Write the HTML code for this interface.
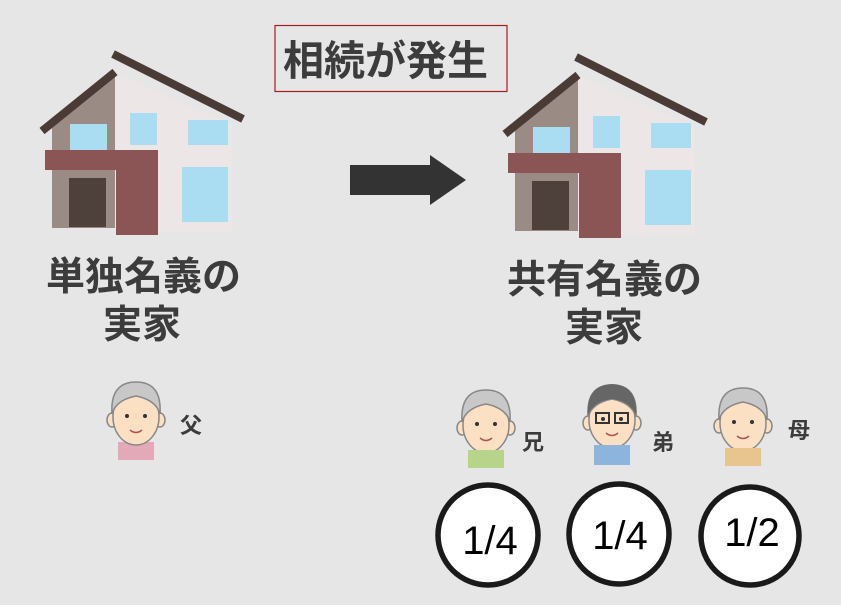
<!DOCTYPE html>
<html><head><meta charset="utf-8"><style>
html,body{margin:0;padding:0}
body{width:841px;height:605px;background:#e6e6e6;overflow:hidden;position:relative;font-family:"Liberation Sans","Noto Sans CJK JP",sans-serif}
.t{position:absolute;font-weight:bold;color:#3c3c3c;white-space:nowrap;font-family:"Noto Sans CJK JP",sans-serif}
</style></head><body>
<svg width="841" height="605" style="position:absolute;left:0;top:0">
<defs>
<g id="house">
<polygon points="115,72 232,125 232,232 115,232" fill="#ece6e6"/>
<polygon points="52,128 115,72 115,228 52,228" fill="#9a8b85"/>
<line x1="113" y1="54" x2="243" y2="119" stroke="#4a3b36" stroke-width="8"/>
<line x1="42" y1="131" x2="115" y2="72" stroke="#4a3b36" stroke-width="8"/>
<rect x="70" y="124" width="37" height="27" fill="#aadcf2"/>
<rect x="130" y="113" width="27" height="32" fill="#aadcf2"/>
<rect x="188" y="120" width="40" height="25" fill="#aadcf2"/>
<rect x="182" y="167" width="46" height="55" fill="#aadcf2"/>
<rect x="69" y="178" width="37" height="49" fill="#4e403b"/>
<rect x="45" y="150" width="113" height="20" fill="#8b5555"/>
<rect x="116" y="170" width="42" height="65" fill="#8b5555"/>
</g>
<g id="face">
<rect x="-18" y="30" width="36" height="18" fill="#e4a9b8"/>
<ellipse cx="-24" cy="8" rx="5" ry="7" fill="#fbe0c4" stroke="#888" stroke-width="1.5"/>
<ellipse cx="24" cy="8" rx="5" ry="7" fill="#fbe0c4" stroke="#888" stroke-width="1.5"/>
<ellipse cx="0" cy="5" rx="23" ry="28" fill="#fbe0c4" stroke="#888" stroke-width="1.5"/>
<path d="M-24,2 Q-26,-30 0,-30 Q26,-30 24,2 Q20,-12 0,-16 Q-20,-12 -24,2Z" fill="#c8c8c8" stroke="#888" stroke-width="1.5"/>
<circle cx="-9" cy="4" r="2" fill="#333"/><circle cx="9" cy="4" r="2" fill="#333"/>
<path d="M-6,18 Q0,23 6,18" stroke="#a55" stroke-width="1.5" fill="none"/>
</g>
</defs>
<use href="#house"/>
<use href="#house" transform="translate(463,3)"/>
<rect x="350" y="165" width="82" height="30" fill="#333"/>
<polygon points="430,155 466,180 430,205" fill="#333"/>
<rect x="275" y="25.5" width="232" height="66" fill="none" stroke="#a02020" stroke-width="1.2"/>
<use href="#face" transform="translate(136,412)"/>
<g transform="translate(486,420)"><use href="#face"/><rect x="-18" y="30" width="36" height="18" fill="#b6d48a"/></g>
<g transform="translate(612,415)"><use href="#face"/><rect x="-18" y="30" width="36" height="20" fill="#8cb4dc"/><path d="M-24,0 Q-26,-30 0,-31 Q26,-30 24,0 Q18,-14 0,-16 Q-18,-14 -24,0Z" fill="#666"/><rect x="-16" y="-2" width="13" height="10" fill="none" stroke="#333" stroke-width="2"/><rect x="3" y="-2" width="13" height="10" fill="none" stroke="#333" stroke-width="2"/></g>
<g transform="translate(743,418)"><use href="#face"/><rect x="-18" y="30" width="36" height="18" fill="#e8c48e"/></g>
<g fill="#fff" stroke="#1a1a1a" stroke-width="5.5">
<circle cx="488" cy="535" r="50"/>
<circle cx="619" cy="534" r="50"/>
<circle cx="750" cy="536" r="49"/>
</g>
<g font-family="Liberation Sans, sans-serif" font-size="40" fill="#000" text-anchor="middle">
<text x="490" y="554">1/4</text>
<text x="620" y="549">1/4</text>
<text x="752" y="546">1/2</text>
</g>
</svg>
<div class="t" style="left:283px;top:30px;font-size:41px;line-height:55px">相続が発生</div>
<div class="t" style="left:46px;top:250px;font-size:39px;line-height:48px">単独名義の</div>
<div class="t" style="left:103px;top:298px;font-size:39px;line-height:48px">実家</div>
<div class="t" style="left:507px;top:253px;font-size:39px;line-height:48px">共有名義の</div>
<div class="t" style="left:565px;top:301px;font-size:39px;line-height:48px">実家</div>
<div class="t" style="left:180px;top:410px;font-size:22px;line-height:28px">父</div>
<div class="t" style="left:522px;top:427px;font-size:22px;line-height:28px">兄</div>
<div class="t" style="left:652px;top:427px;font-size:22px;line-height:28px">弟</div>
<div class="t" style="left:788px;top:415px;font-size:22px;line-height:28px">母</div>
</body></html>
